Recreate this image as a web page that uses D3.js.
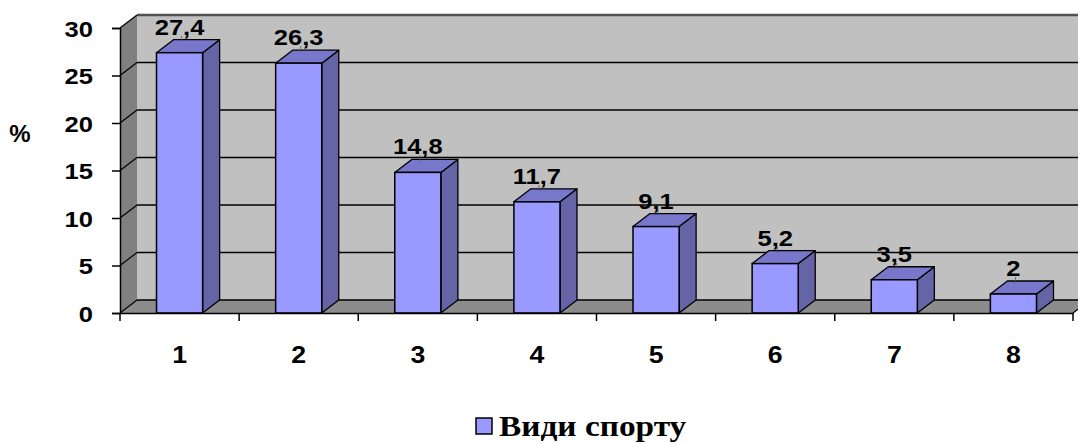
<!DOCTYPE html>
<html>
<head>
<meta charset="utf-8">
<script src="https://cdn.jsdelivr.net/npm/d3@7"></script>
<style>
  html, body { margin: 0; padding: 0; background: #fff; }
  svg { display: block; }
  text { font-family: "Liberation Sans", Arial, sans-serif; font-weight: bold; fill: #000; }
</style>
</head>
<body>
<svg id="chart" width="1078" height="444"></svg>
<script>
// Share of respondents by sport type, %
const categories = ["1", "2", "3", "4", "5", "6", "7", "8"];
const values = [27.4, 26.3, 14.8, 11.7, 9.1, 5.2, 3.5, 2];
const valueLabels = ["27,4", "26,3", "14,8", "11,7", "9,1", "5,2", "3,5", "2"];
const yTicks = [0, 5, 10, 15, 20, 25, 30];
const seriesName = "Види спорту";
const yTitle = "%";

const svg = d3.select("#chart");

// 3D look: depth offset of the back wall and of each column
const DX = 17, DY = -13;
const SX = 1.16; // horizontal text stretch

const x = d3.scaleBand().domain(categories).range([120, 1073]).paddingInner(0).paddingOuter(0);
const y = d3.scaleLinear().domain([0, 30]).range([313, 28]);

const x0 = x.range()[0], x1 = x.range()[1];
const yBase = y(0), yTop = y(30);

const poly = pts => "M" + pts.map(p => p.join(",")).join("L") + "Z";

// Back wall
svg.append("rect")
  .attr("x", x0 + DX).attr("y", yTop + DY)
  .attr("width", x1 - x0 + 30).attr("height", yBase - yTop)
  .attr("fill", "#c0c0c0");

// Left side wall
svg.append("path")
  .attr("d", poly([[x0, yTop], [x0 + DX, yTop + DY], [x0 + DX, yBase + DY], [x0, yBase]]))
  .attr("fill", "#808080");

// Floor
svg.append("path")
  .attr("d", poly([[x0, yBase], [x1, yBase], [x1 + DX, yBase + DY], [x0 + DX, yBase + DY]]))
  .attr("fill", "#8c8c8c");

// Gridlines on the walls
const grid = svg.append("g");
yTicks.forEach(v => {
  const yy = y(v);
  grid.append("line")
    .attr("x1", x0 + DX).attr("x2", x1 + DX + 20)
    .attr("y1", yy + DY).attr("y2", yy + DY)
    .attr("stroke", v === 30 ? "#505050" : "#000")
    .attr("stroke-width", v === 30 ? 2.5 : 1.5);
  grid.append("line")
    .attr("x1", x0).attr("y1", yy)
    .attr("x2", x0 + DX).attr("y2", yy + DY)
    .attr("stroke", "#000").attr("stroke-width", 1.2);
});
// floor right edge
svg.append("line")
  .attr("x1", x1).attr("y1", yBase).attr("x2", x1 + DX).attr("y2", yBase + DY)
  .attr("stroke", "#000").attr("stroke-width", 1.2);

// Columns
const bw = x.bandwidth() * 0.387;
const bars = svg.append("g").selectAll("g").data(values).join("g");
bars.each(function (v, i) {
  const g = d3.select(this);
  const cx = x(categories[i]) + x.bandwidth() / 2;
  const l = cx - bw / 2, r = cx + bw / 2;
  const t = y(v), b = y(0);
  // side
  g.append("path")
    .attr("d", poly([[r, t], [r + DX, t + DY], [r + DX, b + DY], [r, b]]))
    .attr("fill", "#6464a6").attr("stroke", "#000").attr("stroke-width", 1.3)
    .attr("stroke-linejoin", "round");
  // top
  g.append("path")
    .attr("d", poly([[l, t], [l + DX, t + DY], [r + DX, t + DY], [r, t]]))
    .attr("fill", "#7777cc").attr("stroke", "#000").attr("stroke-width", 1.3)
    .attr("stroke-linejoin", "round");
  // front
  g.append("rect")
    .attr("x", l).attr("y", t).attr("width", bw).attr("height", b - t)
    .attr("fill", "#9999ff").attr("stroke", "#000").attr("stroke-width", 1.5);
  // value label with a short leader
  const ly = t + DY - 5;
  g.append("line")
    .attr("x1", cx + 2).attr("x2", cx + 2).attr("y1", ly + 1).attr("y2", t + DY + 2)
    .attr("stroke", "#555").attr("stroke-width", 0.7);
  g.append("text")
    .attr("transform", `translate(${cx},${ly}) scale(${SX},1)`)
    .attr("text-anchor", "middle")
    .attr("font-size", 22)
    .text(valueLabels[i]);
});

// Y axis
const yAxis = svg.append("g")
  .attr("transform", `translate(${x0},0)`)
  .call(d3.axisLeft(y).tickValues(yTicks).tickSize(8).tickFormat(d3.format("d")));
yAxis.select(".domain").attr("stroke", "#000").attr("stroke-width", 1.5);
yAxis.selectAll(".tick line").attr("stroke", "#000").attr("stroke-width", 1.5);
yAxis.selectAll(".tick text")
  .attr("x", null).attr("dy", null)
  .attr("transform", `translate(-27,8) scale(${SX},1)`)
  .attr("font-size", 22).attr("font-family", null).attr("fill", "#000");

// X axis
const xAxis = svg.append("g")
  .attr("transform", `translate(0,${yBase})`)
  .call(d3.axisBottom(x).tickSize(0).tickFormat(() => ""));
xAxis.select(".domain").attr("stroke", "#000").attr("stroke-width", 1.5);
xAxis.selectAll(".tick").remove();
// band boundary ticks
const bounds = categories.map(c => x(c)).concat([x1]);
svg.append("g").selectAll("line").data(bounds).join("line")
  .attr("x1", d => d).attr("x2", d => d)
  .attr("y1", yBase).attr("y2", yBase + 8)
  .attr("stroke", "#000").attr("stroke-width", 1.5);
// category labels
svg.append("g").selectAll("text").data(categories).join("text")
  .attr("transform", d => `translate(${x(d) + x.bandwidth() / 2},363) scale(${SX},1)`)
  .attr("text-anchor", "middle")
  .attr("font-size", 23)
  .text(d => d);

// Y title
svg.append("text")
  .attr("transform", `translate(20,142)`)
  .attr("text-anchor", "middle")
  .attr("font-size", 24)
  .text(yTitle);

// Legend
const lg = svg.append("g");
lg.append("rect")
  .attr("x", 476).attr("y", 418).attr("width", 16).attr("height", 16)
  .attr("fill", "#9999ff").attr("stroke", "#000").attr("stroke-width", 1.5);
lg.append("text")
  .attr("transform", `translate(499,436) scale(1.15,1)`)
  .style("font-family", "'Liberation Serif', 'Times New Roman', serif")
  .attr("font-size", 29)
  .text(seriesName);
</script>
</body>
</html>
